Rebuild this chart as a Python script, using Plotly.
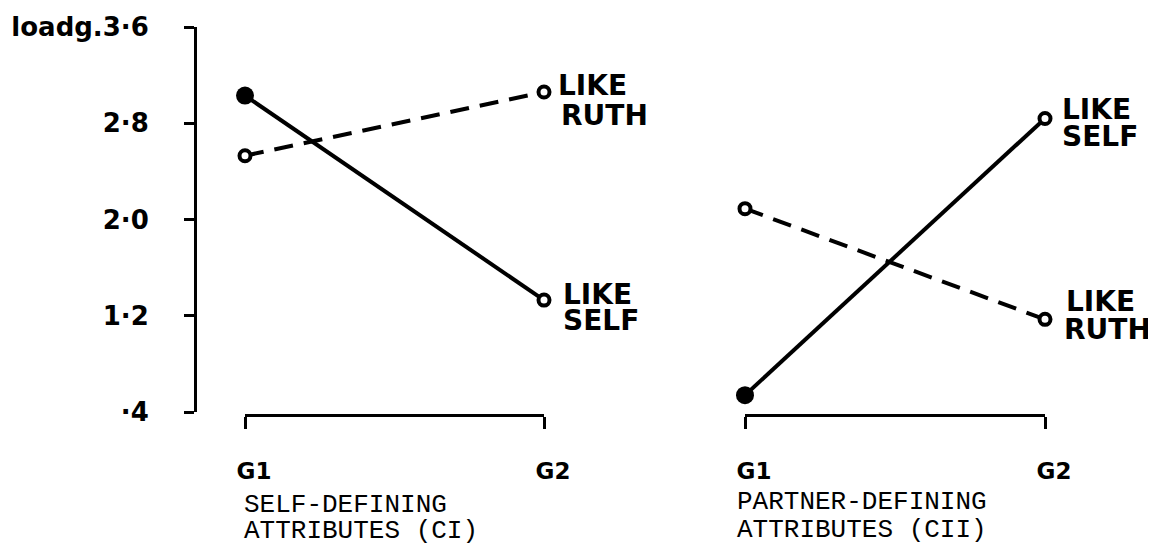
import plotly.graph_objects as go

# ---- data ----
categories = ["G1", "G2"]
like_self_ci = [3.03, 1.33]
like_ruth_ci = [2.53, 3.06]
like_self_cii = [0.54, 2.84]
like_ruth_cii = [2.09, 1.17]
ytick_vals = [0.4, 1.2, 2.0, 2.8, 3.6]
ytick_text = ["·4", "1·2", "2·0", "2·8", "loadg.3·6"]
panel_titles = [["SELF-DEFINING", "ATTRIBUTES (CI)"],
                ["PARTNER-DEFINING", "ATTRIBUTES (CII)"]]

OFF = 8                     # page body margin
W, H = 1156 - OFF, 546 - OFF
BOLD = dict(family="DejaVu Sans", color="black", weight="bold")
MONO = dict(family="Liberation Mono", color="black", size=26)

def px_x(p):
    return (p - OFF) / W

def px_y(p):
    return (H - (p - OFF)) / H

fig = go.Figure()

def add_pair(self_vals, ruth_vals, xa):
    # solid: LIKE SELF, first point filled
    fig.add_trace(go.Scatter(
        x=categories, y=self_vals, xaxis=xa, yaxis="y", mode="lines+markers",
        line=dict(color="black", width=4),
        marker=dict(size=[18, 11], color=["black", "white"], opacity=1,
                    line=dict(color="black", width=[0, 4])),
        cliponaxis=False, showlegend=False, hoverinfo="skip"))
    # dashed: LIKE RUTH
    fig.add_trace(go.Scatter(
        x=categories, y=ruth_vals, xaxis=xa, yaxis="y", mode="lines+markers",
        line=dict(color="black", width=4, dash="19px,11px"),
        marker=dict(size=11, color="white", opacity=1,
                    line=dict(color="black", width=4)),
        cliponaxis=False, showlegend=False, hoverinfo="skip"))

add_pair(like_self_ci, like_ruth_ci, "x")
add_pair(like_self_cii, like_ruth_cii, "x2")

xcommon = dict(type="category", categoryorder="array", categoryarray=categories,
               range=[0, 1], anchor="free", position=px_y(415),
               showline=True, linecolor="black", linewidth=3,
               ticks="outside", ticklen=12, tickwidth=3, tickcolor="black",
               showgrid=False, zeroline=False, ticklabelstandoff=22,
               ticklabelshift=9, tickfont=dict(**BOLD, size=23))

fig.update_layout(
    width=W, height=H, template="none",
    paper_bgcolor="white", plot_bgcolor="rgba(0,0,0,0)",
    margin=dict(l=0, r=0, t=0, b=0),
    xaxis=dict(domain=[px_x(245), px_x(544)], **xcommon),
    xaxis2=dict(domain=[px_x(745), px_x(1045)], **xcommon),
    yaxis=dict(domain=[px_y(412), px_y(27)], range=[0.4, 3.6],
               anchor="free", position=px_x(195),
               showline=True, linecolor="black", linewidth=3,
               ticks="outside", ticklen=10, tickwidth=3, tickcolor="black",
               tickvals=ytick_vals, ticktext=ytick_text,
               ticklabelstandoff=30, showgrid=False, zeroline=False,
               tickfont=dict(**BOLD, size=26)),
)

# end labels next to G2 points (text, series value, axis, xshift, yshift)
end_labels = [
    ("LIKE", like_ruth_ci[1], "x", 12, 6), ("RUTH", like_ruth_ci[1], "x", 15, -24),
    ("LIKE", like_self_ci[1], "x", 17, 6), ("SELF", like_self_ci[1], "x", 17, -20),
    ("LIKE", like_self_cii[1], "x2", 15, 9), ("SELF", like_self_cii[1], "x2", 15, -18),
    ("LIKE", like_ruth_cii[1], "x2", 19, 18), ("RUTH", like_ruth_cii[1], "x2", 17, -10),
]
for txt, yv, xa, dx, dy in end_labels:
    fig.add_annotation(x=1, y=yv, xref=xa, yref="y", text=txt, showarrow=False,
                       xanchor="left", yanchor="middle", xshift=dx, yshift=dy,
                       font=dict(**BOLD, size=28))

# panel titles below the x axes
title_pos = [("x", -3, [504, 530]), ("x2", -10, [501, 529])]
for (xa, dx, ys), lines in zip(title_pos, panel_titles):
    for yy, line in zip(ys, lines):
        fig.add_annotation(x=0, y=px_y(yy + 1), xref=xa, yref="paper", text=line,
                           showarrow=False, xanchor="left", yanchor="middle",
                           xshift=dx, font=MONO)

fig.write_html("out.html")
